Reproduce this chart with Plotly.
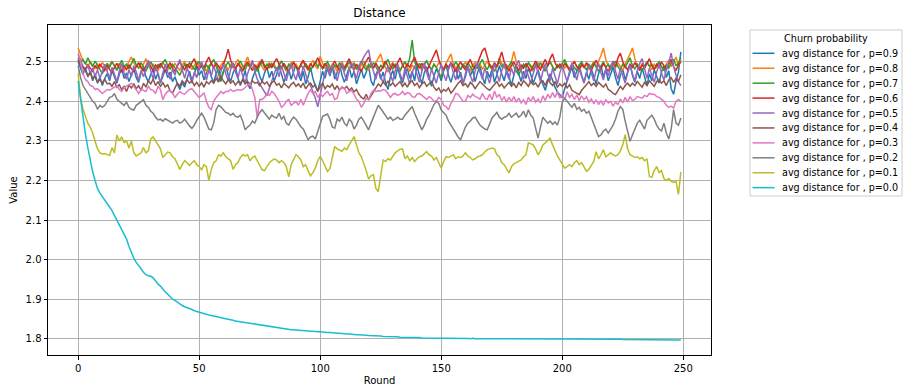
import plotly.graph_objects as go

rounds = list(range(250))

p09 = [
2.500, 2.482, 2.468, 2.486, 2.462, 2.476, 2.452, 2.470, 2.446, 2.462,
2.440, 2.458, 2.470, 2.452, 2.478, 2.462, 2.446, 2.468, 2.482, 2.458,
2.472, 2.450, 2.466, 2.484, 2.460, 2.448, 2.474, 2.486, 2.462, 2.450,
2.468, 2.480, 2.456, 2.472, 2.446, 2.464, 2.482, 2.460, 2.474, 2.450,
2.462, 2.444, 2.430, 2.448, 2.436, 2.458, 2.476, 2.452, 2.470, 2.488,
2.466, 2.478, 2.454, 2.472, 2.490, 2.462, 2.448, 2.470, 2.484, 2.458,
2.474, 2.492, 2.466, 2.450, 2.472, 2.486, 2.460, 2.440, 2.456, 2.478,
2.446, 2.432, 2.458, 2.476, 2.490, 2.464, 2.450, 2.472, 2.486, 2.460,
2.476, 2.452, 2.468, 2.490, 2.470, 2.448, 2.466, 2.482, 2.456, 2.474,
2.494, 2.468, 2.452, 2.476, 2.444, 2.462, 2.486, 2.458, 2.438, 2.426,
2.454, 2.476, 2.458, 2.484, 2.464, 2.488, 2.456, 2.472, 2.494, 2.466,
2.448, 2.470, 2.486, 2.460, 2.476, 2.444, 2.466, 2.482, 2.458, 2.474,
2.490, 2.452, 2.440, 2.468, 2.480, 2.456, 2.474, 2.448, 2.430, 2.462,
2.478, 2.456, 2.486, 2.462, 2.446, 2.470, 2.484, 2.458, 2.476, 2.452,
2.490, 2.466, 2.444, 2.472, 2.488, 2.460, 2.438, 2.464, 2.482, 2.470,
2.452, 2.478, 2.492, 2.466, 2.448, 2.470, 2.484, 2.456, 2.474, 2.446,
2.462, 2.488, 2.464, 2.480, 2.450, 2.472, 2.490, 2.462, 2.444, 2.476,
2.460, 2.482, 2.448, 2.468, 2.490, 2.470, 2.452, 2.478, 2.464, 2.440,
2.466, 2.492, 2.470, 2.450, 2.476, 2.458, 2.484, 2.468, 2.446, 2.462,
2.480, 2.458, 2.442, 2.428, 2.452, 2.470, 2.454, 2.436, 2.424, 2.416,
2.410, 2.432, 2.454, 2.470, 2.486, 2.460, 2.476, 2.492, 2.466, 2.448,
2.474, 2.456, 2.482, 2.464, 2.444, 2.470, 2.490, 2.462, 2.480, 2.452,
2.468, 2.486, 2.460, 2.440, 2.466, 2.482, 2.454, 2.474, 2.494, 2.466,
2.448, 2.476, 2.458, 2.484, 2.462, 2.440, 2.470, 2.452, 2.480, 2.462,
2.446, 2.474, 2.490, 2.460, 2.478, 2.432, 2.418, 2.450, 2.474, 2.525,
]

p08 = [
2.535, 2.518, 2.502, 2.496, 2.488, 2.500, 2.492, 2.484, 2.494, 2.486,
2.498, 2.488, 2.480, 2.492, 2.502, 2.490, 2.482, 2.496, 2.486, 2.478,
2.490, 2.500, 2.512, 2.498, 2.488, 2.496, 2.482, 2.494, 2.508, 2.490,
2.482, 2.494, 2.486, 2.478, 2.492, 2.500, 2.488, 2.480, 2.494, 2.484,
2.496, 2.488, 2.478, 2.492, 2.500, 2.486, 2.494, 2.480, 2.490, 2.502,
2.488, 2.496, 2.484, 2.476, 2.490, 2.498, 2.486, 2.494, 2.482, 2.490,
2.500, 2.488, 2.480, 2.494, 2.484, 2.496, 2.506, 2.490, 2.482, 2.496,
2.512, 2.494, 2.486, 2.480, 2.492, 2.500, 2.488, 2.478, 2.490, 2.498,
2.486, 2.494, 2.480, 2.490, 2.502, 2.488, 2.476, 2.490, 2.498, 2.486,
2.494, 2.482, 2.490, 2.500, 2.488, 2.478, 2.492, 2.504, 2.490, 2.482,
2.514, 2.496, 2.484, 2.492, 2.480, 2.494, 2.488, 2.476, 2.490, 2.500,
2.486, 2.494, 2.482, 2.490, 2.498, 2.486, 2.478, 2.492, 2.502, 2.488,
2.480, 2.494, 2.486, 2.498, 2.508, 2.520, 2.496, 2.486, 2.474, 2.490,
2.498, 2.484, 2.492, 2.480, 2.490, 2.500, 2.486, 2.476, 2.492, 2.484,
2.496, 2.488, 2.478, 2.494, 2.502, 2.488, 2.480, 2.494, 2.486, 2.498,
2.490, 2.482, 2.496, 2.508, 2.520, 2.494, 2.484, 2.492, 2.480, 2.490,
2.500, 2.486, 2.476, 2.492, 2.498, 2.486, 2.494, 2.482, 2.490, 2.502,
2.488, 2.480, 2.494, 2.486, 2.510, 2.496, 2.484, 2.492, 2.480, 2.500,
2.526, 2.500, 2.488, 2.478, 2.492, 2.484, 2.496, 2.486, 2.476, 2.490,
2.498, 2.486, 2.494, 2.482, 2.490, 2.500, 2.488, 2.478, 2.492, 2.486,
2.496, 2.484, 2.492, 2.480, 2.490, 2.502, 2.488, 2.476, 2.492, 2.486,
2.494, 2.482, 2.490, 2.500, 2.488, 2.502, 2.516, 2.535, 2.506, 2.490,
2.480, 2.494, 2.486, 2.498, 2.488, 2.478, 2.494, 2.506, 2.520, 2.535,
2.508, 2.490, 2.482, 2.496, 2.486, 2.500, 2.490, 2.480, 2.494, 2.486,
2.498, 2.488, 2.478, 2.494, 2.504, 2.488, 2.500, 2.512, 2.490, 2.505,
]

p07 = [
2.512, 2.500, 2.506, 2.494, 2.510, 2.498, 2.488, 2.502, 2.492, 2.480,
2.470, 2.484, 2.496, 2.486, 2.500, 2.490, 2.478, 2.492, 2.504, 2.488,
2.494, 2.482, 2.496, 2.508, 2.492, 2.484, 2.498, 2.488, 2.476, 2.490,
2.500, 2.488, 2.478, 2.494, 2.486, 2.498, 2.506, 2.490, 2.482, 2.494,
2.486, 2.476, 2.466, 2.482, 2.494, 2.486, 2.498, 2.490, 2.480, 2.494,
2.500, 2.488, 2.478, 2.492, 2.484, 2.496, 2.506, 2.490, 2.468, 2.450,
2.474, 2.490, 2.500, 2.486, 2.496, 2.484, 2.492, 2.502, 2.490, 2.480,
2.494, 2.486, 2.498, 2.488, 2.476, 2.490, 2.500, 2.486, 2.494, 2.484,
2.496, 2.488, 2.478, 2.492, 2.502, 2.490, 2.480, 2.494, 2.486, 2.498,
2.488, 2.478, 2.492, 2.484, 2.496, 2.486, 2.476, 2.490, 2.500, 2.488,
2.494, 2.482, 2.490, 2.500, 2.488, 2.478, 2.492, 2.486, 2.498, 2.488,
2.476, 2.490, 2.500, 2.486, 2.494, 2.482, 2.490, 2.502, 2.488, 2.480,
2.494, 2.486, 2.498, 2.488, 2.476, 2.492, 2.484, 2.496, 2.506, 2.490,
2.482, 2.494, 2.486, 2.476, 2.490, 2.500, 2.488, 2.510, 2.555, 2.500,
2.486, 2.496, 2.484, 2.492, 2.502, 2.490, 2.480, 2.494, 2.486, 2.472,
2.462, 2.478, 2.492, 2.484, 2.496, 2.488, 2.500, 2.490, 2.480, 2.494,
2.486, 2.498, 2.488, 2.478, 2.492, 2.484, 2.496, 2.506, 2.490, 2.480,
2.494, 2.486, 2.476, 2.490, 2.500, 2.488, 2.494, 2.482, 2.490, 2.500,
2.488, 2.478, 2.466, 2.482, 2.494, 2.486, 2.498, 2.490, 2.480, 2.494,
2.486, 2.498, 2.488, 2.476, 2.490, 2.500, 2.488, 2.478, 2.492, 2.484,
2.496, 2.506, 2.490, 2.482, 2.494, 2.486, 2.478, 2.492, 2.500, 2.488,
2.480, 2.494, 2.486, 2.498, 2.488, 2.476, 2.490, 2.500, 2.486, 2.494,
2.482, 2.490, 2.502, 2.488, 2.480, 2.494, 2.486, 2.498, 2.510, 2.490,
2.482, 2.494, 2.486, 2.476, 2.490, 2.500, 2.488, 2.494, 2.482, 2.490,
2.500, 2.488, 2.478, 2.492, 2.484, 2.496, 2.506, 2.490, 2.498, 2.510,
]

p06 = [
2.508, 2.496, 2.488, 2.480, 2.492, 2.484, 2.476, 2.490, 2.482, 2.494,
2.486, 2.478, 2.490, 2.482, 2.472, 2.486, 2.496, 2.484, 2.474, 2.488,
2.480, 2.492, 2.484, 2.474, 2.488, 2.498, 2.486, 2.478, 2.490, 2.500,
2.488, 2.478, 2.492, 2.484, 2.496, 2.486, 2.474, 2.488, 2.498, 2.484,
2.476, 2.490, 2.500, 2.488, 2.480, 2.494, 2.484, 2.498, 2.508, 2.490,
2.480, 2.494, 2.486, 2.500, 2.512, 2.496, 2.484, 2.498, 2.490, 2.480,
2.494, 2.510, 2.532, 2.504, 2.490, 2.482, 2.496, 2.486, 2.476, 2.490,
2.500, 2.488, 2.478, 2.492, 2.484, 2.496, 2.506, 2.490, 2.480, 2.494,
2.486, 2.498, 2.508, 2.494, 2.484, 2.496, 2.486, 2.476, 2.490, 2.500,
2.488, 2.480, 2.494, 2.504, 2.490, 2.482, 2.496, 2.486, 2.498, 2.510,
2.494, 2.484, 2.496, 2.486, 2.476, 2.490, 2.502, 2.488, 2.478, 2.492,
2.484, 2.496, 2.508, 2.490, 2.480, 2.494, 2.486, 2.476, 2.490, 2.500,
2.512, 2.494, 2.484, 2.496, 2.486, 2.476, 2.490, 2.502, 2.488, 2.480,
2.494, 2.486, 2.498, 2.510, 2.492, 2.482, 2.494, 2.486, 2.500, 2.512,
2.494, 2.484, 2.496, 2.486, 2.476, 2.490, 2.504, 2.518, 2.530, 2.506,
2.490, 2.480, 2.494, 2.486, 2.498, 2.488, 2.476, 2.490, 2.500, 2.488,
2.480, 2.494, 2.506, 2.490, 2.482, 2.496, 2.514, 2.528, 2.535, 2.510,
2.492, 2.484, 2.498, 2.488, 2.510, 2.525, 2.500, 2.486, 2.476, 2.490,
2.500, 2.488, 2.478, 2.492, 2.484, 2.496, 2.486, 2.476, 2.490, 2.502,
2.488, 2.480, 2.494, 2.506, 2.490, 2.508, 2.520, 2.498, 2.486, 2.494,
2.484, 2.496, 2.488, 2.478, 2.492, 2.500, 2.488, 2.480, 2.494, 2.486,
2.498, 2.488, 2.478, 2.492, 2.504, 2.490, 2.482, 2.496, 2.486, 2.476,
2.490, 2.500, 2.488, 2.510, 2.522, 2.500, 2.488, 2.480, 2.494, 2.486,
2.498, 2.488, 2.478, 2.492, 2.484, 2.496, 2.508, 2.490, 2.480, 2.494,
2.486, 2.500, 2.490, 2.480, 2.494, 2.506, 2.488, 2.478, 2.492, 2.500,
]

p05 = [
2.520, 2.502, 2.488, 2.474, 2.492, 2.470, 2.484, 2.462, 2.480, 2.458,
2.474, 2.494, 2.476, 2.458, 2.486, 2.470, 2.450, 2.476, 2.496, 2.470,
2.456, 2.480, 2.462, 2.490, 2.474, 2.452, 2.478, 2.462, 2.486, 2.504,
2.478, 2.456, 2.488, 2.470, 2.448, 2.472, 2.494, 2.474, 2.456, 2.482,
2.466, 2.490, 2.506, 2.480, 2.458, 2.484, 2.468, 2.446, 2.474, 2.460,
2.486, 2.500, 2.474, 2.454, 2.480, 2.464, 2.490, 2.470, 2.450, 2.476,
2.494, 2.470, 2.452, 2.480, 2.498, 2.474, 2.458, 2.484, 2.466, 2.446,
2.470, 2.490, 2.504, 2.476, 2.456, 2.444, 2.432, 2.424, 2.414, 2.434,
2.452, 2.470, 2.486, 2.462, 2.490, 2.472, 2.452, 2.476, 2.494, 2.470,
2.454, 2.480, 2.462, 2.488, 2.468, 2.450, 2.440, 2.424, 2.408, 2.386,
2.418, 2.452, 2.474, 2.490, 2.466, 2.492, 2.474, 2.452, 2.478, 2.496,
2.470, 2.452, 2.482, 2.498, 2.474, 2.458, 2.486, 2.500, 2.512, 2.522,
2.530, 2.496, 2.474, 2.456, 2.482, 2.464, 2.446, 2.472, 2.490, 2.468,
2.450, 2.478, 2.494, 2.470, 2.452, 2.484, 2.462, 2.444, 2.472, 2.490,
2.468, 2.448, 2.476, 2.498, 2.472, 2.454, 2.482, 2.466, 2.446, 2.474,
2.494, 2.468, 2.452, 2.480, 2.496, 2.472, 2.454, 2.484, 2.464, 2.444,
2.470, 2.490, 2.466, 2.448, 2.476, 2.500, 2.474, 2.456, 2.484, 2.466,
2.446, 2.472, 2.494, 2.470, 2.450, 2.478, 2.496, 2.472, 2.456, 2.484,
2.466, 2.490, 2.504, 2.478, 2.456, 2.482, 2.466, 2.446, 2.470, 2.492,
2.472, 2.450, 2.476, 2.496, 2.470, 2.452, 2.484, 2.464, 2.444, 2.472,
2.490, 2.470, 2.450, 2.476, 2.498, 2.474, 2.454, 2.482, 2.466, 2.446,
2.470, 2.492, 2.472, 2.452, 2.478, 2.496, 2.472, 2.454, 2.484, 2.464,
2.486, 2.502, 2.476, 2.456, 2.484, 2.466, 2.446, 2.472, 2.492, 2.470,
2.452, 2.478, 2.496, 2.508, 2.482, 2.458, 2.484, 2.466, 2.448, 2.474,
2.494, 2.472, 2.454, 2.480, 2.498, 2.522, 2.488, 2.466, 2.450, 2.440,
]

p04 = [
2.505, 2.492, 2.486, 2.478, 2.465, 2.472, 2.458, 2.462, 2.448, 2.455,
2.447, 2.456, 2.444, 2.446, 2.438, 2.450, 2.436, 2.442, 2.430, 2.438,
2.425, 2.441, 2.434, 2.445, 2.432, 2.440, 2.428, 2.446, 2.436, 2.452,
2.444, 2.456, 2.440, 2.450, 2.438, 2.447, 2.436, 2.442, 2.426, 2.421,
2.434, 2.446, 2.438, 2.452, 2.444, 2.455, 2.446, 2.452, 2.440, 2.448,
2.438, 2.447, 2.436, 2.450, 2.444, 2.452, 2.446, 2.458, 2.449, 2.462,
2.452, 2.444, 2.455, 2.446, 2.452, 2.441, 2.450, 2.446, 2.455, 2.444,
2.450, 2.443, 2.452, 2.446, 2.448, 2.440, 2.451, 2.444, 2.449, 2.438,
2.447, 2.452, 2.441, 2.445, 2.434, 2.446, 2.440, 2.434, 2.443, 2.448,
2.438, 2.444, 2.436, 2.446, 2.432, 2.441, 2.446, 2.436, 2.442, 2.425,
2.438, 2.446, 2.432, 2.440, 2.436, 2.444, 2.430, 2.440, 2.428, 2.436,
2.432, 2.438, 2.428, 2.434, 2.424, 2.430, 2.418, 2.410, 2.406, 2.418,
2.404, 2.414, 2.426, 2.436, 2.444, 2.438, 2.450, 2.441, 2.452, 2.440,
2.447, 2.438, 2.444, 2.450, 2.438, 2.446, 2.436, 2.448, 2.452, 2.440,
2.446, 2.435, 2.444, 2.449, 2.438, 2.444, 2.450, 2.436, 2.428, 2.434,
2.422, 2.430, 2.426, 2.434, 2.421, 2.428, 2.438, 2.446, 2.452, 2.440,
2.445, 2.436, 2.448, 2.442, 2.432, 2.440, 2.450, 2.444, 2.437, 2.432,
2.428, 2.436, 2.442, 2.450, 2.438, 2.444, 2.434, 2.442, 2.448, 2.438,
2.445, 2.434, 2.448, 2.440, 2.452, 2.446, 2.438, 2.450, 2.442, 2.446,
2.436, 2.448, 2.452, 2.440, 2.456, 2.447, 2.440, 2.450, 2.436, 2.444,
2.438, 2.446, 2.434, 2.442, 2.428, 2.424, 2.420, 2.417, 2.428, 2.434,
2.442, 2.450, 2.440, 2.446, 2.438, 2.448, 2.442, 2.436, 2.444, 2.430,
2.426, 2.420, 2.417, 2.428, 2.438, 2.430, 2.440, 2.446, 2.438, 2.446,
2.440, 2.450, 2.442, 2.436, 2.448, 2.440, 2.452, 2.444, 2.438, 2.450,
2.455, 2.446, 2.452, 2.440, 2.454, 2.460, 2.448, 2.458, 2.450, 2.467,
]

p03 = [
2.520, 2.500, 2.470, 2.455, 2.450, 2.440, 2.438, 2.430, 2.432, 2.425,
2.420, 2.425, 2.430, 2.428, 2.432, 2.435, 2.440, 2.430, 2.425, 2.435,
2.438, 2.442, 2.446, 2.438, 2.430, 2.420, 2.430, 2.428, 2.425, 2.438,
2.430, 2.428, 2.420, 2.438, 2.430, 2.404, 2.418, 2.425, 2.428, 2.420,
2.410, 2.418, 2.425, 2.420, 2.418, 2.425, 2.430, 2.432, 2.425, 2.418,
2.410, 2.415, 2.422, 2.400, 2.385, 2.379, 2.400, 2.410, 2.418, 2.425,
2.420, 2.425, 2.425, 2.430, 2.425, 2.428, 2.430, 2.428, 2.430, 2.435,
2.440, 2.446, 2.430, 2.410, 2.358, 2.405, 2.405, 2.410, 2.420, 2.415,
2.425, 2.420, 2.410, 2.400, 2.385, 2.390, 2.400, 2.405, 2.390, 2.395,
2.400, 2.390, 2.405, 2.390, 2.405, 2.420, 2.429, 2.420, 2.425, 2.410,
2.420, 2.412, 2.420, 2.425, 2.415, 2.420, 2.405, 2.408, 2.430, 2.435,
2.432, 2.420, 2.425, 2.428, 2.418, 2.405, 2.400, 2.385, 2.395, 2.408,
2.404, 2.420, 2.428, 2.425, 2.427, 2.426, 2.430, 2.428, 2.420, 2.410,
2.418, 2.420, 2.415, 2.418, 2.425, 2.417, 2.422, 2.420, 2.412, 2.410,
2.418, 2.420, 2.415, 2.410, 2.405, 2.412, 2.408, 2.400, 2.400, 2.410,
2.405, 2.390, 2.387, 2.379, 2.395, 2.405, 2.420, 2.418, 2.410, 2.400,
2.400, 2.415, 2.410, 2.418, 2.412, 2.410, 2.405, 2.420, 2.408, 2.405,
2.418, 2.404, 2.426, 2.410, 2.418, 2.402, 2.412, 2.398, 2.410, 2.400,
2.412, 2.398, 2.408, 2.396, 2.404, 2.392, 2.410, 2.400, 2.412, 2.398,
2.406, 2.396, 2.414, 2.402, 2.418, 2.408, 2.422, 2.410, 2.424, 2.408,
2.418, 2.404, 2.424, 2.410, 2.418, 2.404, 2.416, 2.402, 2.414, 2.404,
2.412, 2.398, 2.406, 2.394, 2.404, 2.392, 2.402, 2.390, 2.404, 2.396,
2.400, 2.388, 2.398, 2.392, 2.406, 2.396, 2.410, 2.398, 2.412, 2.402,
2.405, 2.412, 2.410, 2.408, 2.415, 2.412, 2.420, 2.418, 2.418, 2.412,
2.410, 2.405, 2.400, 2.390, 2.385, 2.388, 2.383, 2.400, 2.405, 2.400,
]

p02 = [
2.490, 2.460, 2.440, 2.430, 2.420, 2.410, 2.400, 2.395, 2.380, 2.390,
2.385, 2.390, 2.400, 2.410, 2.412, 2.420, 2.405, 2.400, 2.395, 2.390,
2.398, 2.385, 2.380, 2.378, 2.390, 2.395, 2.400, 2.404, 2.390, 2.385,
2.375, 2.370, 2.360, 2.353, 2.355, 2.350, 2.356, 2.352, 2.348, 2.345,
2.350, 2.352, 2.345, 2.348, 2.355, 2.345, 2.338, 2.332, 2.340, 2.352,
2.362, 2.370, 2.360, 2.345, 2.330, 2.328, 2.345, 2.379, 2.390, 2.386,
2.380, 2.372, 2.370, 2.365, 2.370, 2.362, 2.360, 2.365, 2.350, 2.328,
2.335, 2.340, 2.350, 2.345, 2.360, 2.372, 2.379, 2.370, 2.362, 2.355,
2.365, 2.360, 2.358, 2.370, 2.355, 2.362, 2.345, 2.340, 2.352, 2.360,
2.355, 2.345, 2.336, 2.330, 2.318, 2.303, 2.310, 2.312, 2.305, 2.325,
2.345, 2.362, 2.365, 2.368, 2.355, 2.335, 2.332, 2.355, 2.350, 2.360,
2.345, 2.338, 2.355, 2.348, 2.330, 2.340, 2.355, 2.360, 2.350, 2.340,
2.328, 2.345, 2.360, 2.372, 2.390, 2.382, 2.372, 2.365, 2.355, 2.360,
2.352, 2.355, 2.360, 2.355, 2.355, 2.365, 2.372, 2.380, 2.387, 2.370,
2.355, 2.340, 2.328, 2.340, 2.355, 2.365, 2.380, 2.392, 2.400, 2.395,
2.378, 2.372, 2.365, 2.350, 2.340, 2.330, 2.318, 2.310, 2.303, 2.320,
2.335, 2.345, 2.350, 2.358, 2.360, 2.350, 2.340, 2.335, 2.330, 2.328,
2.342, 2.358, 2.365, 2.372, 2.360, 2.355, 2.360, 2.362, 2.370, 2.360,
2.365, 2.370, 2.360, 2.365, 2.375, 2.360, 2.379, 2.365, 2.358, 2.330,
2.307, 2.335, 2.360, 2.352, 2.345, 2.350, 2.342, 2.348, 2.340, 2.360,
2.398, 2.408, 2.400, 2.390, 2.385, 2.395, 2.380, 2.385, 2.375, 2.380,
2.370, 2.375, 2.360, 2.345, 2.330, 2.311, 2.315, 2.325, 2.330, 2.320,
2.330, 2.340, 2.355, 2.375, 2.387, 2.380, 2.350, 2.320, 2.299, 2.315,
2.330, 2.345, 2.352, 2.340, 2.330, 2.352, 2.360, 2.365, 2.355, 2.340,
2.330, 2.325, 2.345, 2.320, 2.305, 2.330, 2.379, 2.345, 2.340, 2.358,
]

p01 = [
2.470, 2.410, 2.380, 2.360, 2.345, 2.335, 2.320, 2.300, 2.280, 2.270,
2.267, 2.268, 2.266, 2.263, 2.283, 2.270, 2.315, 2.300, 2.310, 2.296,
2.300, 2.282, 2.300, 2.270, 2.262, 2.265, 2.270, 2.283, 2.270, 2.275,
2.305, 2.310, 2.300, 2.290, 2.280, 2.258, 2.265, 2.272, 2.270, 2.260,
2.255, 2.240, 2.228, 2.240, 2.250, 2.245, 2.238, 2.245, 2.250, 2.240,
2.235, 2.227, 2.240, 2.235, 2.200, 2.228, 2.245, 2.250, 2.265, 2.262,
2.270, 2.260, 2.255, 2.250, 2.228, 2.240, 2.245, 2.258, 2.265, 2.262,
2.265, 2.250, 2.258, 2.262, 2.250, 2.240, 2.227, 2.225, 2.235, 2.245,
2.250, 2.254, 2.252, 2.245, 2.250, 2.245, 2.235, 2.209, 2.240, 2.255,
2.265, 2.260, 2.252, 2.235, 2.240, 2.225, 2.212, 2.220, 2.232, 2.250,
2.261, 2.250, 2.235, 2.223, 2.230, 2.255, 2.286, 2.280, 2.277, 2.274,
2.282, 2.278, 2.290, 2.300, 2.311, 2.290, 2.270, 2.260, 2.245, 2.225,
2.204, 2.212, 2.215, 2.180, 2.172, 2.215, 2.252, 2.248, 2.255, 2.252,
2.262, 2.270, 2.275, 2.279, 2.280, 2.255, 2.262, 2.250, 2.258, 2.248,
2.255, 2.260, 2.262, 2.268, 2.273, 2.265, 2.262, 2.252, 2.258, 2.245,
2.231, 2.248, 2.260, 2.258, 2.262, 2.265, 2.255, 2.260, 2.258, 2.262,
2.270, 2.262, 2.258, 2.252, 2.255, 2.260, 2.262, 2.265, 2.272, 2.278,
2.280, 2.282, 2.280, 2.265, 2.260, 2.245, 2.240, 2.230, 2.219, 2.235,
2.242, 2.245, 2.248, 2.252, 2.260, 2.265, 2.295, 2.293, 2.290, 2.280,
2.265, 2.275, 2.290, 2.295, 2.300, 2.307, 2.290, 2.275, 2.262, 2.252,
2.240, 2.231, 2.235, 2.240, 2.235, 2.245, 2.250, 2.240, 2.245, 2.235,
2.223, 2.228, 2.240, 2.248, 2.273, 2.255, 2.265, 2.278, 2.260, 2.265,
2.270, 2.265, 2.262, 2.265, 2.275, 2.290, 2.316, 2.280, 2.265, 2.262,
2.258, 2.260, 2.255, 2.258, 2.250, 2.255, 2.210, 2.208, 2.225, 2.235,
2.220, 2.225, 2.205, 2.200, 2.205, 2.198, 2.195, 2.198, 2.165, 2.222,
]

p00 = [
2.452, 2.405, 2.362, 2.318, 2.283, 2.252, 2.222, 2.200, 2.180, 2.168,
2.160, 2.151, 2.142, 2.133, 2.124, 2.112, 2.097, 2.086, 2.074, 2.065,
2.052, 2.033, 2.017, 2.004, 1.993, 1.986, 1.977, 1.968, 1.962, 1.959,
1.958, 1.954, 1.945, 1.938, 1.933, 1.925, 1.918, 1.913, 1.905, 1.900,
1.897, 1.892, 1.887, 1.884, 1.881, 1.879, 1.877, 1.874, 1.871, 1.869,
1.867, 1.864, 1.862, 1.861, 1.860, 1.859, 1.858, 1.857, 1.855, 1.853,
1.852, 1.851, 1.849, 1.848, 1.847, 1.845, 1.844, 1.843, 1.842, 1.841,
1.840, 1.839, 1.838, 1.837, 1.836, 1.835, 1.834, 1.833, 1.832, 1.831,
1.830, 1.829, 1.828, 1.827, 1.826, 1.826, 1.825, 1.824, 1.823, 1.823,
1.822, 1.822, 1.821, 1.821, 1.820, 1.820, 1.819, 1.819, 1.818, 1.818,
1.818, 1.817, 1.817, 1.816, 1.816, 1.815, 1.815, 1.814, 1.814, 1.813,
1.813, 1.812, 1.812, 1.811, 1.811, 1.810, 1.810, 1.810, 1.809, 1.809,
1.808, 1.808, 1.808, 1.807, 1.807, 1.807, 1.806, 1.806, 1.806, 1.805,
1.805, 1.805, 1.805, 1.804, 1.804, 1.804, 1.804, 1.803, 1.803, 1.803,
1.803, 1.803, 1.802, 1.802, 1.802, 1.802, 1.802, 1.802, 1.801, 1.801,
1.801, 1.801, 1.801, 1.801, 1.801, 1.801, 1.801, 1.801, 1.801, 1.801,
1.801, 1.801, 1.800, 1.801, 1.800, 1.800, 1.800, 1.800, 1.800, 1.800,
1.800, 1.800, 1.800, 1.800, 1.800, 1.800, 1.800, 1.800, 1.800, 1.800,
1.800, 1.800, 1.800, 1.800, 1.800, 1.800, 1.800, 1.800, 1.800, 1.800,
1.800, 1.800, 1.800, 1.800, 1.800, 1.799, 1.800, 1.799, 1.799, 1.799,
1.799, 1.799, 1.799, 1.799, 1.799, 1.799, 1.799, 1.799, 1.799, 1.799,
1.799, 1.799, 1.799, 1.799, 1.799, 1.799, 1.799, 1.799, 1.799, 1.799,
1.799, 1.799, 1.799, 1.799, 1.799, 1.798, 1.798, 1.798, 1.798, 1.798,
1.798, 1.798, 1.798, 1.798, 1.798, 1.798, 1.798, 1.798, 1.798, 1.798,
1.798, 1.798, 1.798, 1.798, 1.797, 1.797, 1.797, 1.797, 1.797, 1.797,
]

probabilities = ["0.9", "0.8", "0.7", "0.6", "0.5", "0.4", "0.3", "0.2", "0.1", "0.0"]
values = [p09, p08, p07, p06, p05, p04, p03, p02, p01, p00]
colors = ["#1f77b4", "#ff7f0e", "#2ca02c", "#d62728", "#9467bd",
          "#8c564b", "#e377c2", "#7f7f7f", "#bcbd22", "#17becf"]
legend_title = "Churn probability"

x_ticks = [0, 50, 100, 150, 200, 250]
y_ticks = [1.8, 1.9, 2.0, 2.1, 2.2, 2.3, 2.4, 2.5]

# figure / plot-area geometry (pixels)
W, H = 903, 387
ML, MR, MT, MB = 48, 192, 25, 32
PW, PH = W - ML - MR, H - MT - MB


def px_x(px):
    return (px - ML) / PW


def px_y(py):
    return 1 - (py - MT) / PH


fig = go.Figure()
for p, vals, col in zip(probabilities, values, colors):
    assert len(vals) == len(rounds), (p, len(vals))
    fig.add_trace(go.Scatter(
        x=rounds, y=vals, mode="lines",
        name=f"avg distance for , p={p}",
        line=dict(color=col, width=1.5),
        showlegend=False,
    ))

# Hand-built matplotlib-style legend (compact row spacing)
shapes = [dict(type="rect", xref="paper", yref="paper",
               x0=px_x(750), x1=px_x(902), y0=px_y(196), y1=px_y(30),
               line=dict(color="#cccccc", width=1), fillcolor="rgba(255,255,255,0.8)",
               layer="above")]
annotations = [dict(text=legend_title, xref="paper", yref="paper",
                    x=px_x(826), y=px_y(38.5), xanchor="center", yanchor="middle",
                    showarrow=False, font=dict(size=9.7, color="black"))]
row0, row_step = 53.3, 14.93
for i, (p, col) in enumerate(zip(probabilities, colors)):
    yy = px_y(row0 + i * row_step)
    shapes.append(dict(type="line", xref="paper", yref="paper",
                       x0=px_x(752.5), x1=px_x(774.5), y0=yy, y1=yy,
                       line=dict(color=col, width=1.5), layer="above"))
    annotations.append(dict(text=f"avg distance for , p={p}", xref="paper", yref="paper",
                            x=px_x(779.5), y=yy, xanchor="left", yanchor="middle",
                            showarrow=False, font=dict(size=9.6, color="black")))

axis_common = dict(
    showgrid=True, gridcolor="#b0b0b0", gridwidth=0.8,
    showline=True, linecolor="black", linewidth=1, mirror=True,
    ticks="outside", ticklen=3.5, tickcolor="black", tickwidth=0.8,
    zeroline=False, tickfont=dict(size=10, color="black"), automargin=False,
)

fig.update_layout(
    width=W, height=H,
    margin=dict(l=ML, r=MR, t=MT, b=MB, autoexpand=False),
    paper_bgcolor="white", plot_bgcolor="white",
    font=dict(family="DejaVu Sans", size=10, color="black"),
    title=dict(text="Distance", x=379.5 / W, xanchor="center",
               y=1 - 13 / H, yanchor="middle", xref="container", yref="container",
               font=dict(size=12, color="black")),
    xaxis=dict(range=[-12.45, 261.45], tickvals=x_ticks,
               title=dict(text="Round", standoff=4, font=dict(size=10)), **axis_common),
    yaxis=dict(range=[1.759, 2.593], tickvals=y_ticks, tickformat=".1f",
               title=dict(text="Value", standoff=6, font=dict(size=10)), **axis_common),
    shapes=shapes,
    annotations=annotations,
    showlegend=False,
)

fig.write_html("out.html")
